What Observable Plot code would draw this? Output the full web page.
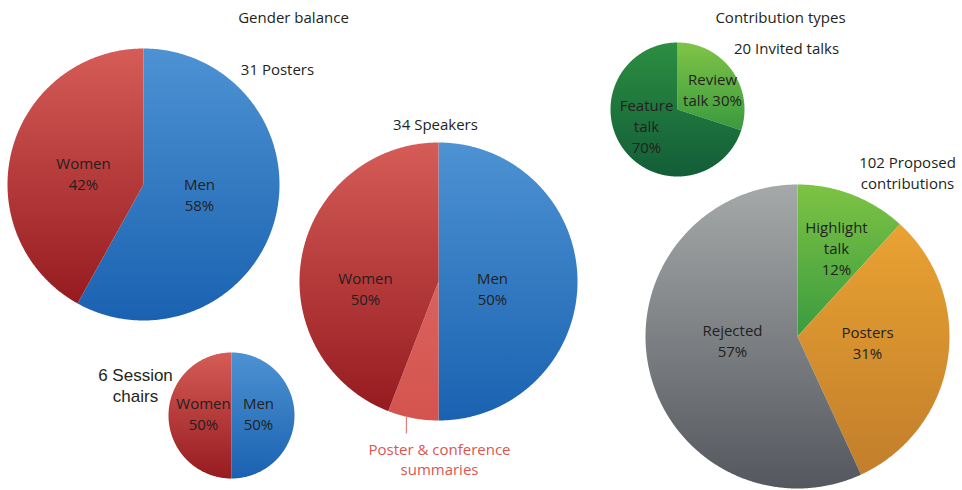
<!DOCTYPE html>
<html><head><meta charset="utf-8">
<script src="https://cdn.jsdelivr.net/npm/d3@7"></script>
<script src="https://cdn.jsdelivr.net/npm/@observablehq/plot@0.6"></script>
<style>html,body{margin:0;padding:0;background:#fff}</style>
</head><body><div id="chart"></div>
<script>
// ---------------- DATA ----------------
const groupTitles = ["Gender balance", "Contribution types"];
const pieTitles = ["31 Posters", "34 Speakers", "6 Session\nchairs", "20 Invited talks", "102 Proposed\ncontributions"];

const posterCategories = ["Men", "Women"];
const posterCounts = [18, 13];
const posterLabels = ["Men\n58%", "Women\n42%"];

const speakerCategories = ["Men", "Poster & conference summaries", "Women"];
const speakerCounts = [17, 2, 15];
const speakerLabels = ["Men\n50%", "Poster & conference\nsummaries", "Women\n50%"];

const chairCategories = ["Men", "Women"];
const chairCounts = [3, 3];
const chairLabels = ["Men\n50%", "Women\n50%"];

const invitedCategories = ["Review talk", "Feature talk"];
const invitedCounts = [6, 14];
const invitedLabels = ["Review\ntalk 30%", "Feature\ntalk\n70%"];

const proposedCategories = ["Highlight talk", "Posters", "Rejected"];
const proposedCounts = [12, 32, 58];
const proposedLabels = ["Highlight\ntalk\n12%", "Posters\n31%", "Rejected\n57%"];

// ---------------- STYLE / LAYOUT ----------------
const gradients = {
  "Men": ["#4d92d2", "#1a62b1"],
  "Women": ["#d55c57", "#961b20"],
  "Poster & conference summaries": ["#da625d", "#d4534f"],
  "Review talk": ["#80c446", "#399a3f"],
  "Feature talk": ["#2b8e41", "#135d38"],
  "Highlight talk": ["#7dc344", "#3a9b3f"],
  "Posters": ["#e9a232", "#c27e2b"],
  "Rejected": ["#a6a9a9", "#54585e"]
};
const pies = [
  {cats: posterCategories, counts: posterCounts, labels: posterLabels, cx: 143, cy: 184, r: 136,
   titlePos: [277, 68], labelPos: [[199, 193], [83, 172]]},
  {cats: speakerCategories, counts: speakerCounts, labels: speakerLabels, cx: 438, cy: 281, r: 139,
   titlePos: [435, 123], labelPos: [[492, 287], null, [365, 287]]},
  {cats: chairCategories, counts: chairCounts, labels: chairLabels, cx: 231, cy: 415, r: 63,
   titlePos: [135, 384], labelPos: [[258, 412], [203, 412]], titleFont: "Liberation Sans", titleSize: 17, titleLH: 1.24},
  {cats: invitedCategories, counts: invitedCounts, labels: invitedLabels, cx: 677, cy: 109, r: 67,
   titlePos: [786, 47], labelPos: [[712, 88], [646, 125]]},
  {cats: proposedCategories, counts: proposedCounts, labels: proposedLabels, cx: 797, cy: 336, r: 152,
   titlePos: [907, 171], labelPos: [[836, 247], [867, 341], [732, 339]]}
];
const groupTitlePos = [[293, 18], [780, 18]];
const W = 962, H = 490;
const textColor = "#231f20";
const fontFamily = "'Open Sans', sans-serif";

// ---------------- GEOMETRY ----------------
function arcs(counts) {
  const total = d3.sum(counts);
  let acc = 0;
  return counts.map(c => { const a0 = acc / total * 2 * Math.PI; acc += c; return [a0, acc / total * 2 * Math.PI]; });
}
function wedge(cx, cy, r, a0, a1) {
  const full = a1 - a0 >= 2 * Math.PI - 1e-9;
  const pts = full ? [] : [{x: cx, y: cy}];
  const n = Math.max(2, Math.ceil((a1 - a0) / (Math.PI / 360)));
  for (let i = 0; i <= n; i++) {
    const a = a0 + (a1 - a0) * i / n;
    pts.push({x: cx + r * Math.sin(a), y: cy - r * Math.cos(a)});
  }
  return pts;
}
const gradId = c => "g-" + c.replace(/[^a-z]/gi, "");

const marks = [];
// shadows
pies.forEach(p => {
  marks.push(Plot.line(wedge(p.cx + 1, p.cy + 2, p.r + 0.5, 0, 2 * Math.PI), {
    x: "x", y: "y", fill: "#000", fillOpacity: 0.45, stroke: "none", curve: "linear-closed", ariaLabel: "shadow"
  }));
});
// slices
pies.forEach(p => {
  arcs(p.counts).forEach(([a0, a1], i) => {
    marks.push(Plot.line(wedge(p.cx, p.cy, p.r, a0, a1), {
      x: "x", y: "y", fill: `url(#${gradId(p.cats[i])})`, stroke: "none", curve: "linear-closed"
    }));
  });
});
// slice labels
pies.forEach(p => {
  const rows = p.labels.map((t, i) => ({t, pos: p.labelPos[i]})).filter(d => d.pos);
  marks.push(Plot.text(rows, {x: d => d.pos[0], y: d => d.pos[1], text: "t", fill: textColor, fontSize: 15, lineHeight: 1.4}));
});
// pie titles
pies.forEach((p, i) => {
  marks.push(Plot.text([pieTitles[i]], {x: () => p.titlePos[0], y: () => p.titlePos[1], text: d => d,
    fill: textColor, fontSize: p.titleSize || 15, lineHeight: p.titleLH || 1.4,
    fontFamily: p.titleFont ? `'${p.titleFont}', sans-serif` : undefined}));
});
// group titles
marks.push(Plot.text(groupTitles, {x: (d, i) => groupTitlePos[i][0], y: (d, i) => groupTitlePos[i][1], text: d => d, fill: textColor, fontSize: 15}));
// callout for summaries wedge
const sp = pies[1];
const spArc = arcs(sp.counts)[1];
const calloutAngle = spArc[0] + (spArc[1] - spArc[0]) * 0.63;
const cxLine = sp.cx + sp.r * Math.sin(calloutAngle);
const cyEdge = sp.cy - sp.r * Math.cos(calloutAngle);
marks.push(Plot.link([0], {x1: () => cxLine, x2: () => cxLine, y1: () => cyEdge - 1, y2: () => sp.cy + sp.r + 13, stroke: "#e3807c", strokeWidth: 1.3}));
marks.push(Plot.text([speakerLabels[1]], {x: () => sp.cx + 1, y: () => sp.cy + sp.r + 38, text: d => d, fill: "#dc5552", fontSize: 15, lineHeight: 1.33}));

const chart = Plot.plot({
  width: W, height: H,
  margin: 0,
  x: {domain: [0, W], range: [0, W], axis: null},
  y: {domain: [0, H], range: [0, H], axis: null},
  style: {fontFamily, background: "#fff", overflow: "visible"},
  marks
});

const svg = d3.select(chart);
const defs = svg.insert("defs", ":first-child");
Object.entries(gradients).forEach(([k, [c0, c1]]) => {
  const g = defs.append("linearGradient").attr("id", gradId(k)).attr("x1", 0).attr("y1", 0).attr("x2", 0).attr("y2", 1);
  g.append("stop").attr("offset", "0%").attr("stop-color", c0);
  g.append("stop").attr("offset", "100%").attr("stop-color", c1);
});
defs.append("filter").attr("id", "blur").attr("x", "-10%").attr("y", "-10%").attr("width", "120%").attr("height", "120%")
  .append("feGaussianBlur").attr("stdDeviation", 2);
svg.selectAll("g[aria-label=shadow]").attr("filter", "url(#blur)");

document.getElementById("chart").appendChild(chart);
</script>
</body></html>
